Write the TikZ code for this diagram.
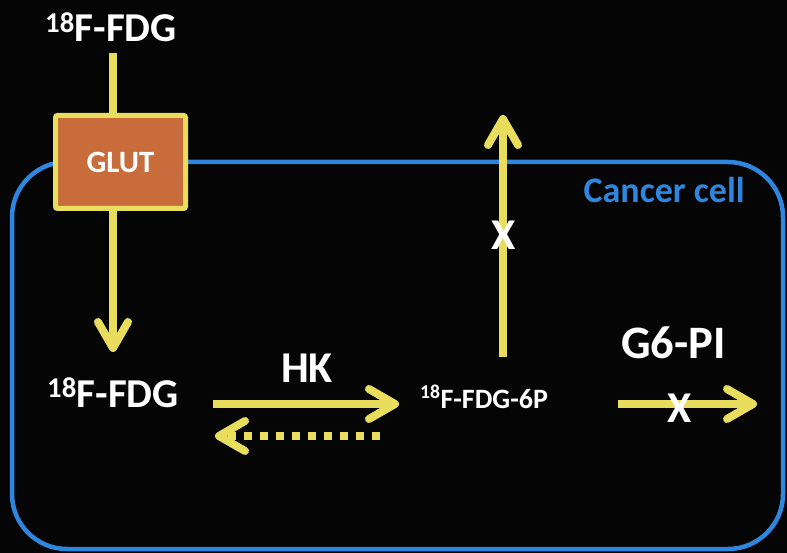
\documentclass[tikz,border=0pt]{standalone}
\usepackage{fontspec}
\setmainfont{Carlito}
\usetikzlibrary{arrows.meta}
\definecolor{cellblue}{HTML}{2E86DE}
\definecolor{arrowyellow}{HTML}{E8DD5C}
\definecolor{glutorange}{HTML}{C76C3A}
\begin{document}
\begin{tikzpicture}[x=1pt,y=-1pt,
  txt/.style={inner sep=0pt,text=white,font=\bfseries},
  yline/.style={draw=arrowyellow,line width=8pt},
  yarrow/.style={yline,-{Straight Barb[length=26pt,width=30pt,round]}},
  cellwall/.style={draw=cellblue,line width=4.5pt,rounded corners=55pt}]
\useasboundingbox (0,0) rectangle (787,553);
\fill[black!98] (0,0) rectangle (787,553);
% cell membrane
\draw[cellwall] (12,162) rectangle (783,549);
\node[anchor=base east,inner sep=0pt,text=cellblue,font=\bfseries\fontsize{36}{40}\selectfont] (cell) at (745,203) {Cancer cell};
% GLUT transporter
\node[draw=arrowyellow,line width=5pt,fill=glutorange,minimum width=130pt,minimum height=93pt,inner sep=0pt,rounded corners=2pt,text=white,font=\bfseries\fontsize{31}{36}\selectfont] (glut) at (120.5,162) {GLUT};
% texts
\node[txt,anchor=base west,font=\bfseries\fontsize{41}{50}\selectfont] (fdgout) at (45,42) {\textsuperscript{18}F-FDG};
\node[txt,anchor=base west,font=\bfseries\fontsize{41}{50}\selectfont] (fdgin) at (47,407) {\textsuperscript{18}F-FDG};
\node[txt,anchor=base west,font=\bfseries\fontsize{44}{50}\selectfont] (hk) at (281,382) {HK};
\node[txt,anchor=base west,font=\bfseries\fontsize{28}{34}\selectfont] (fdg6p) at (420,408) {\textsuperscript{18}F-FDG-6P};
\node[txt,anchor=base west,font=\bfseries\fontsize{46.5}{50}\selectfont] (g6pi) at (621,358) {G6-PI};
% coordinates for free ends
\coordinate (inTop) at (113,53);
\coordinate (inTip) at (113,352);
\coordinate (hkStart) at (213,404);
\coordinate (hkTip) at (399,404);
\coordinate (backStart) at (380,436);
\coordinate (backTip) at (215,436);
\coordinate (upStart) at (503,357);
\coordinate (upTip) at (503,115);
\coordinate (rStart) at (618,404);
\coordinate (rTip) at (757,404);
% arrows
\draw[yline] (inTop) -- (glut.north -| inTop);
\draw[yarrow] (glut.south -| inTop) -- (inTip);
\draw[yarrow] (hkStart) -- (hkTip);
\draw[yline,dash pattern=on 8pt off 8pt,-{Straight Barb[length=26pt,width=30pt,round,sep=0pt]}] (backStart) -- (backTip);
\draw[yarrow] (upStart) -- (upTip);
\draw[yarrow] (rStart) -- (rTip);
% blocked marks
\node[txt,anchor=base,font=\bfseries\fontsize{44}{50}\selectfont] (xup) at (504,250) {X};
\node[txt,anchor=base,font=\bfseries\fontsize{44}{50}\selectfont] (xright) at (680,422) {X};
\end{tikzpicture}
\end{document}
